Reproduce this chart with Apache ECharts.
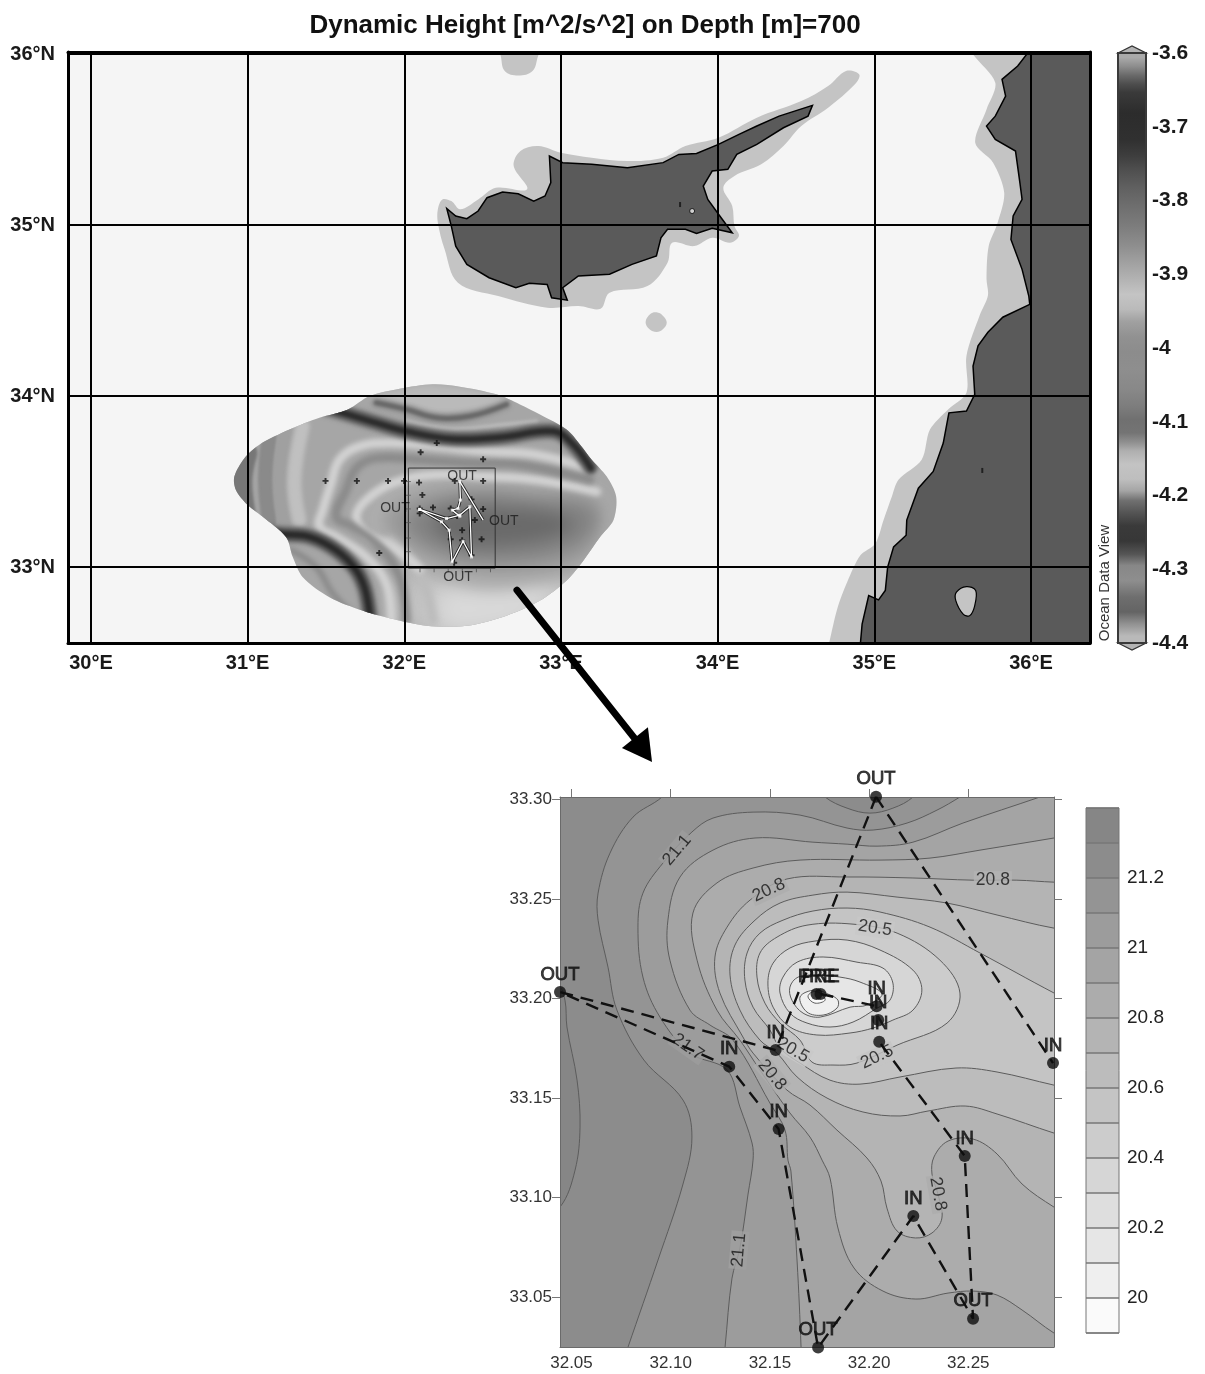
<!DOCTYPE html>
<html><head><meta charset="utf-8">
<style>html,body{margin:0;padding:0;background:#fff}#c{width:1205px;height:1374px}</style>
<script src="https://cdn.jsdelivr.net/npm/echarts@6/dist/echarts.min.js"></script></head>
<body><div id="c"></div>
<script>
const FONT='"Liberation Sans",Arial,sans-serif';
// ---- upper map axes
const lonTicks=[30,31,32,33,34,35,36];
const latTicks=[33,34,35,36];
// ---- coast and shelf (lon,lat)
const cyprusLand=[[32.271,35.097],[32.328,35.053],[32.399,35.037],[32.471,35.082],[32.528,35.16],[32.627,35.193],[32.727,35.183],[32.826,35.14],[32.898,35.17],[32.935,35.248],[32.926,35.404],[33.011,35.365],[33.196,35.355],[33.424,35.335],[33.652,35.365],[33.752,35.413],[33.865,35.419],[34.005,35.472],[34.136,35.53],[34.25,35.579],[34.392,35.637],[34.605,35.7],[34.577,35.637],[34.42,35.569],[34.25,35.472],[34.122,35.413],[34.065,35.326],[33.965,35.316],[33.908,35.228],[33.937,35.15],[34.022,35.043],[34.093,34.955],[33.965,34.981],[33.865,34.951],[33.794,34.975],[33.68,34.975],[33.638,34.926],[33.609,34.819],[33.453,34.77],[33.31,34.712],[33.111,34.702],[33.011,34.634],[33.04,34.561],[32.94,34.575],[32.912,34.653],[32.798,34.659],[32.712,34.634],[32.541,34.692],[32.399,34.77],[32.328,34.877],[32.3,34.994]];
const cyprusShelf=[[32.214,35.092],[32.243,35.15],[32.3,35.14],[32.357,35.092],[32.471,35.15],[32.584,35.218],[32.784,35.209],[32.698,35.345],[32.741,35.433],[32.855,35.462],[33.0,35.423],[33.196,35.394],[33.424,35.374],[33.652,35.394],[33.794,35.462],[34.005,35.511],[34.25,35.628],[34.534,35.725],[34.705,35.813],[34.819,35.901],[34.904,35.881],[34.876,35.823],[34.705,35.686],[34.534,35.579],[34.42,35.462],[34.278,35.355],[34.107,35.287],[34.036,35.218],[34.093,35.111],[34.107,34.994],[34.136,34.936],[34.079,34.897],[33.965,34.926],[33.851,34.877],[33.709,34.897],[33.68,34.78],[33.552,34.643],[33.31,34.604],[33.253,34.511],[33.111,34.526],[32.912,34.517],[32.599,34.585],[32.342,34.663],[32.257,34.858],[32.214,35.014]];
const northShelf=[[32.59,36.05],[32.613,35.998],[32.641,35.901],[32.727,35.875],[32.818,35.901],[32.855,35.992],[32.88,36.05]];
const smallShelf=[[33.54,34.433],[33.57,34.48],[33.61,34.49],[33.65,34.47],[33.675,34.43],[33.65,34.39],[33.61,34.375],[33.565,34.39]];
const eastShelf=[[35.6,36.05],[35.63,35.998],[35.772,35.832],[35.716,35.676],[35.644,35.481],[35.758,35.365],[35.829,35.189],[35.787,35.014],[35.73,34.877],[35.716,34.686],[35.725,34.588],[35.672,34.471],[35.588,34.235],[35.588,34.02],[35.471,33.922],[35.355,33.804],[35.302,33.627],[35.154,33.51],[35.112,33.412],[35.059,33.275],[35.006,33.137],[34.911,33.069],[34.827,32.912],[34.763,32.755],[34.71,32.551],[34.69,32.49],[36.5,32.49],[36.5,36.05]];
const eastLand=[[35.95,36.05],[35.972,35.998],[35.915,35.93],[35.815,35.852],[35.838,35.754],[35.772,35.637],[35.716,35.579],[35.772,35.501],[35.901,35.433],[35.929,35.248],[35.943,35.15],[35.886,35.053],[35.872,34.916],[35.943,34.741],[35.986,34.585],[35.992,34.536],[35.82,34.461],[35.725,34.373],[35.662,34.294],[35.63,34.176],[35.641,34.01],[35.588,33.912],[35.476,33.902],[35.44,33.725],[35.376,33.559],[35.281,33.461],[35.207,33.275],[35.203,33.186],[35.123,33.118],[35.085,33.0],[35.07,32.863],[35.027,32.808],[34.964,32.833],[34.922,32.667],[34.911,32.551],[34.9,32.49],[36.5,32.49],[36.5,36.05]];
const inlandPatch=[[35.524,32.853],[35.588,32.886],[35.647,32.863],[35.641,32.775],[35.609,32.716],[35.567,32.725],[35.52,32.804]];
const darkMarks=[[33.76,35.12],[35.689,33.565]];
const whiteMarks=[[33.837,35.082]];
// ---- gridded field footprint and its bands (lon,lat)
const fieldOutline=[[30.915,33.529],[30.979,33.637],[31.075,33.716],[31.267,33.804],[31.458,33.873],[31.64,33.922],[31.778,34.0],[31.97,34.043],[32.183,34.069],[32.354,34.055],[32.588,34.01],[32.738,33.951],[32.866,33.892],[33.036,33.804],[33.122,33.716],[33.196,33.627],[33.292,33.529],[33.352,33.412],[33.335,33.275],[33.249,33.176],[33.143,33.039],[33.036,32.922],[32.866,32.804],[32.652,32.716],[32.397,32.657],[32.141,32.657],[31.928,32.696],[31.736,32.745],[31.522,32.824],[31.352,32.941],[31.288,33.059],[31.245,33.176],[31.096,33.294],[31.0,33.363],[30.925,33.451]];
const southPatchA=[[32.013,33.0],[32.311,32.981],[32.951,33.0],[33.164,33.059],[33.079,32.726],[32.524,32.608],[31.97,32.648]];
const southPatchB=[[32.226,32.883],[32.631,32.883],[32.951,32.922],[32.866,32.726],[32.482,32.608],[32.205,32.648]];
const northCap=[[31.778,34.0],[31.991,34.049],[32.183,34.069],[32.588,34.01],[32.673,33.951],[32.418,33.906],[32.205,33.892],[32.013,33.931]];
const coreA=[[31.757,33.275],[31.927,33.471],[32.311,33.51],[32.738,33.51],[33.228,33.451],[33.313,33.275],[33.164,33.0],[32.738,32.883],[32.311,32.902],[31.927,33.079]];
const coreB=[[31.863,33.275],[32.013,33.412],[32.354,33.471],[32.738,33.471],[33.228,33.412],[33.271,33.255],[33.143,33.04],[32.738,32.961],[32.354,32.981],[32.013,33.118]];
const coreC=[[32.013,33.265],[32.183,33.373],[32.482,33.422],[32.844,33.392],[33.185,33.353],[33.217,33.236],[33.036,33.098],[32.631,33.04],[32.311,33.079],[32.098,33.157]];
const coreD=[[32.183,33.255],[32.354,33.334],[32.631,33.343],[32.951,33.314],[33.079,33.255],[32.951,33.177],[32.631,33.128],[32.354,33.138]];
const bandW1=[[30.979,33.667],[30.947,33.51],[30.968,33.314]];
const bandW2=[[31.139,33.765],[31.117,33.51],[31.139,33.275]];
const bandW3=[[31.245,33.804],[31.203,33.51],[31.245,33.196]];
const bandW4=[[31.352,33.824],[31.298,33.51],[31.33,33.275]];
const bandInnerU=[[33.228,33.441],[32.844,33.51],[32.524,33.53],[32.183,33.539],[31.927,33.49],[31.757,33.392],[31.693,33.294],[31.757,33.196],[31.927,33.118],[32.098,32.99]];
const bandMidU=[[33.185,33.51],[32.738,33.598],[32.418,33.608],[32.098,33.628],[31.821,33.637],[31.693,33.579],[31.629,33.451],[31.565,33.294],[31.672,33.236],[31.842,33.118],[31.97,32.942],[32.013,32.687]];
const bandOuterU=[[33.207,33.569],[32.844,33.657],[32.524,33.677],[32.205,33.706],[31.927,33.726],[31.714,33.706],[31.586,33.628],[31.533,33.49],[31.48,33.334],[31.458,33.236],[31.565,33.177],[31.757,33.059],[31.885,32.902],[31.917,32.687]];
const bandNorthArc=[[31.821,33.961],[32.013,33.922],[32.205,33.873],[32.418,33.882],[32.652,33.951]];
const bandNorthLight=[[32.013,33.853],[32.311,33.808],[32.631,33.833],[32.844,33.853]];
const bandNorthDark=[[31.5,33.93],[31.608,33.902],[31.821,33.843],[32.013,33.794],[32.311,33.749],[32.631,33.761],[32.951,33.794],[33.079,33.716],[33.19,33.58]];
const bandSouthDark=[[31.15,33.2],[31.224,33.192],[31.394,33.177],[31.565,33.098],[31.693,32.981],[31.757,32.844],[31.789,32.6]];
const bandSouthOuter=[[31.277,33.098],[31.437,33.0],[31.544,32.844],[31.672,32.726]];
const bandSouthInner=[[31.906,33.157],[32.098,32.961],[32.183,32.687]];
// ---- stations on the map
const mapStations=[[31.497,33.504],[31.697,33.504],[31.896,33.504],[31.998,33.504],[32.094,33.494],[32.115,33.422],[32.207,33.725],[32.104,33.671],[32.503,33.631],[32.503,33.504],[32.322,33.504],[32.429,33.396],[32.503,33.339],[32.45,33.275],[32.183,33.349],[32.098,33.314],[32.098,33.343],[32.296,33.343],[32.337,33.298],[32.369,33.216],[32.493,33.163],[32.296,33.163],[32.369,33.157],[32.429,33.069],[32.318,33.025],[31.84,33.082]];
const insetFrame=[[32.026,33.579],[32.58,33.579],[32.58,32.994],[32.026,32.994],[32.026,33.579]];
const insetLoop=[[32.098,33.337],[32.237,33.265],[32.286,33.216],[32.305,33.029],[32.375,33.151],[32.429,33.059],[32.418,33.353],[32.354,33.304],[32.269,33.284],[32.098,33.337]];
const insetSpur=[[32.354,33.5],[32.358,33.392],[32.343,33.343],[32.305,33.333],[32.354,33.298]];
const insetLeg=[[32.354,33.5],[32.503,33.275]];
const insetOut=[[32.369,33.533],[31.94,33.343],[32.635,33.271],[32.343,32.941]];
const insetTickLat=[33.5,33.42,33.34,33.26,33.17,33.09,33.0];
const insetTickLon=[32.1,32.19,32.28,32.37,32.46,32.55];
const arrowShaft=[[32.719,32.865],[33.504,31.959]];
const arrowHead=[[33.581,31.86],[33.389,31.942],[33.555,32.064]];
// ---- upper colour scale
const scaleTopTicks=[-3.6,-3.7,-3.8,-3.9,-4,-4.1,-4.2,-4.3,-4.4];
const scaleTopEdges=[-3.6,-3.612,-3.625,-3.636,-3.648,-3.659,-3.704,-3.73,-3.749,-3.771,-3.794,-3.82,-3.848,-3.875,-3.897,-3.915,-3.94,-3.955,-3.974,-3.996,-4.016,-4.043,-4.07,-4.088,-4.106,-4.124,-4.133,-4.146,-4.169,-4.187,-4.2,-4.214,-4.232,-4.25,-4.273,-4.286,-4.304,-4.327,-4.349,-4.367,-4.381,-4.4];
const scaleTopGrays=[170,140,105,78,58,44,48,62,80,96,110,124,142,162,178,196,186,160,145,140,142,136,125,112,116,145,175,195,190,165,112,85,58,55,85,135,142,110,100,145,185];
// ---- lower plot: regions below each contour level (lon,lat)
const lowLonTicks=[32.05,32.10,32.15,32.20,32.25];
const lowLatTicks=[33.05,33.10,33.15,33.20,33.25,33.30];
const below213=[[32.31,33.315],[32.31,33.01],[32.03,33.01],[32.03,33.086],[32.0442,33.0952],[32.0518,33.1138],[32.0543,33.1354],[32.0528,33.159],[32.0477,33.1857],[32.0467,33.1992],[32.0432,33.2068],[32.03,33.21],[32.03,33.315]];
const below212=[[32.0986,33.3073],[32.0956,33.3013],[32.081,33.2912],[32.0694,33.2731],[32.0634,33.253],[32.0634,33.2394],[32.0684,33.2158],[32.0729,33.1942],[32.0865,33.1691],[32.1062,33.149],[32.1107,33.1304],[32.1062,33.1068],[32.0936,33.0686],[32.0785,33.0249],[32.0755,33.0159],[32.31,33.01],[32.31,33.315],[32.2246,33.3073],[32.2221,33.3013],[32.212,33.2957],[32.2004,33.2932],[32.1889,33.2957],[32.1778,33.3013],[32.1742,33.3073]];
const below211=[[32.1264,33.0159],[32.1274,33.0249],[32.1309,33.0595],[32.1349,33.0746],[32.139,33.1018],[32.1415,33.1188],[32.141,33.1274],[32.1349,33.1455],[32.1284,33.1641],[32.1097,33.1726],[32.0946,33.1907],[32.086,33.2108],[32.0835,33.2359],[32.086,33.253],[32.0961,33.2681],[32.1107,33.2837],[32.1213,33.2907],[32.1415,33.2937],[32.1652,33.2922],[32.1889,33.2857],[32.202,33.2847],[32.2191,33.2882],[32.2342,33.2947],[32.2458,33.3013],[32.2549,33.3073],[32.31,33.315],[32.31,33.01]];
const below210=[[32.1657,33.0159],[32.1657,33.0249],[32.1637,33.0681],[32.1606,33.1133],[32.1591,33.1188],[32.1576,33.1339],[32.15,33.1475],[32.1314,33.1791],[32.1198,33.1867],[32.1097,33.1942],[32.0996,33.2193],[32.0986,33.2394],[32.1047,33.2611],[32.1213,33.2746],[32.1425,33.2807],[32.1717,33.2786],[32.1889,33.2776],[32.204,33.2766],[32.2221,33.2786],[32.2473,33.2882],[32.2861,33.3013],[32.3012,33.3068],[32.31,33.315],[32.31,33.01]];
const below209=[[32.3012,33.0284],[32.2932,33.0319],[32.2771,33.0435],[32.2645,33.051],[32.2524,33.053],[32.2398,33.052],[32.2236,33.049],[32.207,33.053],[32.1924,33.0646],[32.1843,33.0847],[32.1803,33.1098],[32.1763,33.1188],[32.1702,33.1304],[32.1601,33.1425],[32.145,33.1641],[32.1349,33.1791],[32.1233,33.1942],[32.1133,33.2193],[32.1112,33.243],[32.1233,33.2581],[32.1415,33.2656],[32.1652,33.2696],[32.2055,33.2696],[32.2307,33.2706],[32.2559,33.2746],[32.2932,33.2807],[32.3012,33.2822]];
const below208=[[32.3012,33.2585],[32.2932,33.2585],[32.2745,33.2595],[32.2524,33.2595],[32.2221,33.2606],[32.1889,33.2611],[32.1586,33.2601],[32.14,33.2495],[32.1284,33.2359],[32.1223,33.2209],[32.1248,33.2028],[32.1364,33.1807],[32.1415,33.1726],[32.1586,33.154],[32.1702,33.1465],[32.1838,33.1339],[32.1989,33.1199],[32.206,33.1083],[32.209,33.0947],[32.2141,33.0832],[32.2234,33.0797],[32.2317,33.0822],[32.2367,33.0897],[32.2347,33.1018],[32.2317,33.1118],[32.2327,33.1204],[32.2398,33.1284],[32.2524,33.1294],[32.2645,33.1219],[32.2771,33.1068],[32.2932,33.0952],[32.3012,33.0912]];
const below207=[[32.3012,33.2354],[32.2932,33.2354],[32.2645,33.242],[32.2393,33.248],[32.2141,33.251],[32.1889,33.2535],[32.1717,33.252],[32.1551,33.248],[32.1425,33.2394],[32.1324,33.2269],[32.1299,33.2118],[32.1349,33.1942],[32.145,33.1791],[32.1536,33.1726],[32.1637,33.1606],[32.1788,33.15],[32.1969,33.143],[32.2156,33.141],[32.2297,33.1435],[32.2484,33.146],[32.2645,33.142],[32.2932,33.1324],[32.3012,33.1304]];
const below206=[[32.3012,33.1992],[32.2932,33.2028],[32.2559,33.2229],[32.2307,33.2359],[32.2055,33.2435],[32.1889,33.2455],[32.1717,33.244],[32.1566,33.2394],[32.145,33.2329],[32.1385,33.2229],[32.1374,33.2093],[32.1415,33.1957],[32.15,33.1842],[32.1551,33.1751],[32.1652,33.1676],[32.1803,33.159],[32.1954,33.157],[32.2156,33.1606],[32.2438,33.1651],[32.2645,33.1631],[32.2932,33.1565],[32.3012,33.155]];
const below205=[[32.1919,33.2374],[32.2141,33.2329],[32.2357,33.2193],[32.2458,33.2028],[32.2393,33.1877],[32.2141,33.1766],[32.1939,33.1676],[32.1818,33.1666],[32.1712,33.1681],[32.1652,33.1791],[32.1551,33.1877],[32.1475,33.1977],[32.1435,33.2108],[32.145,33.2229],[32.1536,33.2309],[32.1687,33.2369]];
const below204=[[32.1889,33.2294],[32.2055,33.2244],[32.2221,33.2143],[32.2266,33.2043],[32.2221,33.1942],[32.212,33.1892],[32.202,33.1852],[32.1904,33.1827],[32.1737,33.1817],[32.1601,33.1857],[32.1516,33.1957],[32.149,33.2078],[32.1516,33.2178],[32.1601,33.2254],[32.1727,33.2289]];
const below203=[[32.1939,33.2183],[32.207,33.2153],[32.212,33.2078],[32.2105,33.1992],[32.204,33.1952],[32.1919,33.1882],[32.1803,33.1857],[32.1687,33.1877],[32.1601,33.1927],[32.1551,33.2028],[32.1566,33.2108],[32.1637,33.2183],[32.1768,33.2209]];
const below202=[[32.1737,33.2118],[32.1853,33.2108],[32.1954,33.2083],[32.2065,33.2023],[32.1989,33.1967],[32.1904,33.1957],[32.1753,33.1907],[32.1667,33.1927],[32.1611,33.1992],[32.1601,33.2058],[32.1642,33.2108]];
const below201=[[32.1652,33.2008],[32.1687,33.1932],[32.1768,33.1917],[32.1838,33.1952],[32.1843,33.1992],[32.1803,33.2018],[32.1727,33.2043]];
const below200=[[32.1692,33.2008],[32.1727,33.1977],[32.1778,33.1992],[32.1753,33.2028],[32.1712,33.2033]];
const contourLabelText=['21.1','20.8','20.5','20.8','21.7','20.5','20.8','20.5','20.8','21.1'];
const contourLabelLon=[32.1032,32.1495,32.203,32.2624,32.1087,32.1616,32.1511,32.204,32.2347,32.1344];
const contourLabelLat=[33.2746,33.2545,33.2354,33.2595,33.1756,33.1741,33.1616,33.1706,33.1018,33.0736];
// ---- lower plot: cruise stations
const stationName=['OUT','IN','FRE','PRE','IN','IN','IN','IN','IN','OUT','IN','IN','IN','OUT','OUT'];
const stationLon=[32.2035,32.2927,32.1735,32.1755,32.2038,32.2046,32.2051,32.1529,32.1295,32.0442,32.1544,32.2482,32.2223,32.2524,32.1743];
const stationLat=[33.3014,33.1676,33.2023,33.2023,33.1962,33.1892,33.1783,33.1741,33.1658,33.2033,33.1344,33.1209,33.0907,33.0391,33.0246];
const trackA=[0,7];
const trackB=[3,4];
const trackC=[0,1];
const trackD=[7,9,8,10,14,12,13,11,6];
// ---- lower colour scale
const scaleLowTicks=[20,20.2,20.4,20.6,20.8,21,21.2];
const scaleLowEdges=[19.9,20,20.1,20.2,20.3,20.4,20.5,20.6,20.7,20.8,20.9,21,21.1,21.2,21.3,21.4];
const scaleLowColors=['#fafafa','#efefef','#e6e6e6','#dedede','#d6d6d6','#cccccc','#c4c4c4','#bcbcbc','#b4b4b4','#acacac','#a4a4a4','#9c9c9c','#949494','#8c8c8c','#868686'];

// ---- tables built from the arrays above
const SEA='#f5f5f5',SHELF='#c4c4c4',LAND='#5a5a5a';
function poly(path,fill,o){return Object.assign({kind:'polygon',path,fill},o||{});}
function stroke(path,lw,color,o){return Object.assign({kind:'polyline',path,lw,color,smooth:.4},o||{});}
const mapLayers=[
 poly(northShelf,SHELF,{smooth:.4}),poly(smallShelf,SHELF,{smooth:.4}),
 poly(cyprusShelf,SHELF,{smooth:.35}),poly(eastShelf,SHELF,{smooth:.3}),
 poly(cyprusLand,LAND,{line:'#000',lw:1.5}),poly(eastLand,LAND,{line:'#000',lw:1.5}),
 poly(inlandPatch,SHELF,{smooth:.35,line:'#000',lw:1.2})
];
const soft=(blur)=>({smooth:.4,clip:true,soft:blur});
const band=(blur)=>({clip:true,soft:blur});
const fieldLayers=[
 poly(fieldOutline,'#a6a6a6',{smooth:.3}),
 poly(southPatchA,'#c0c0c0',soft(26)),poly(southPatchB,'#dadada',soft(26)),
 poly(northCap,'#bababa',soft(6)),
 poly(coreA,'#b0b0b0',soft(14)),poly(coreB,'#9a9a9a',soft(16)),poly(coreC,'#828282',soft(16)),poly(coreD,'#6a6a6a',soft(16)),
 stroke(bandW1,26,'#777777',band(3)),stroke(bandW2,16,'#8a8a8a',band(3)),stroke(bandW3,14,'#a0a0a0',band(3)),stroke(bandW4,14,'#c0c0c0',band(4)),
 stroke(bandSouthOuter,6,'#8a8a8a',band(5)),stroke(bandSouthInner,10,'#bcbcbc',band(6)),
 stroke(bandInnerU,9,'#d2d2d2',band(5)),stroke(bandMidU,9,'#8c8c8c',band(5)),stroke(bandOuterU,9,'#d2d2d2',band(5)),
 stroke(bandNorthArc,10,'#909090',band(4)),stroke(bandNorthArc,5,'#686868',band(3)),
 stroke(bandNorthLight,4,'#bbbbbb',band(3)),
 stroke(bandNorthDark,15,'#707070',band(5)),stroke(bandNorthDark,10,'#4a4a4a',band(4)),stroke(bandNorthDark,5,'#2c2c2c',band(3)),
 stroke(bandSouthDark,15,'#6a6a6a',band(5)),stroke(bandSouthDark,10,'#454545',band(4)),stroke(bandSouthDark,5,'#2a2a2a',band(3))
];
const lowLayers=[below213,below212,below211,below210,below209,below208,below207,below206,below205,below204,below203,below202,below201,below200]
 .map((p,i)=>poly(p,scaleLowColors[13-i],{smooth:.36,line:'#5c5c5c',lw:1}));
const labelBack=['#9c9c9c','#acacac','#c8c8c8','#b4b4b4','#9c9c9c','#c8c8c8','#acacac','#c4c4c4','#acacac','#a0a0a0'];
const labelRot=[50,25,-8,0,-35,-30,-50,25,-80,85];
const FAR=3000;

function shapes(items,xi,yi,z,frameClip,fieldClip){
 return {type:'custom',xAxisIndex:xi,yAxisIndex:yi,z,silent:true,
  data:items.map((it,i)=>[it.path[0][0],it.path[0][1],i]),
  encode:{x:0,y:1},
  renderItem(params,api){
   const it=items[params.dataIndex];
   let pts=it.path.map(p=>api.coord(p));
   const cs=params.coordSys;
   if(it.soft)pts=pts.map(p=>[p[0]-FAR,p[1]]);
   const el={type:it.kind,shape:{points:pts,smooth:it.smooth||0}};
   if(it.kind==='polygon')el.style={fill:it.fill,stroke:it.line||null,lineWidth:it.lw||0};
   else el.style={fill:null,stroke:it.color,lineWidth:it.lw,lineCap:'round',lineJoin:'round'};
   if(it.soft){el.style.shadowBlur=it.soft;el.style.shadowColor=it.fill||it.color;el.style.shadowOffsetX=FAR;}
   if(it.clip&&fieldClip)el.clipPath={type:'polygon',shape:{points:fieldClip.map(p=>api.coord(p)),smooth:.3}};
   else if(frameClip)el.clipPath={type:'rect',shape:{x:cs.x,y:cs.y,width:cs.width,height:cs.height}};
   return el;
  }};
}
function cells(edges,colorOf,xi,yi){
 const n=edges.length-1,d=[];
 for(let i=0;i<n;i++)d.push([0,edges[i],edges[i+1],colorOf(i)]);
 return {type:'custom',xAxisIndex:xi,yAxisIndex:yi,z:2,silent:true,data:d,encode:{x:0,y:1},
  renderItem(p,api){
   const a=api.coord([0,api.value(1)]),b=api.coord([1,api.value(2)]);
   return {type:'rect',shape:{x:a[0],y:Math.min(a[1],b[1]),width:b[0]-a[0],height:Math.abs(b[1]-a[1])},
     style:{fill:d[p.dataIndex][3],stroke:null}};
  }};
}
const pts=(idx)=>idx.map(i=>[stationLon[i],stationLat[i]]);
const dashed=(idx)=>({type:'line',xAxisIndex:2,yAxisIndex:2,z:6,silent:true,symbol:'none',clip:false,data:pts(idx),
  lineStyle:{color:'#111',width:2.4,type:[13,8]}});
const thin=(data,color,w,z)=>({type:'line',xAxisIndex:0,yAxisIndex:0,z,silent:true,symbol:'none',data,lineStyle:{color,width:w}});

const mapAxisLine={show:true,onZero:false,lineStyle:{color:'#000',width:3}};
const lowAxisLine={show:true,onZero:false,lineStyle:{color:'#6a6a6a',width:1}};
const grids=[{left:68,top:52,width:1022,height:591,show:true,backgroundColor:SEA,borderWidth:0},
 {left:560,top:797,width:494,height:550,show:true,backgroundColor:'#868686',borderWidth:0},
 {left:1118,top:53,width:28,height:590},
 {left:1086,top:808,width:33,height:525}];
const labelMap={show:true,color:'#1a1a1a',fontFamily:FONT,fontWeight:'bold',fontSize:20};
const labelLow={show:true,color:'#333',fontFamily:FONT,fontSize:17};
const hidden={splitLine:{show:false},axisTick:{show:false},axisLabel:{show:false}};
const xAxis=[
 {type:'value',gridIndex:0,min:29.8532,max:36.3766,position:'bottom',z:10,axisLine:mapAxisLine,
  axisTick:{show:false,customValues:lonTicks},
  axisLabel:Object.assign({},labelMap,{customValues:lonTicks,margin:10,formatter:v=>v+'°E'}),
  splitLine:{show:true,lineStyle:{color:'#000',width:2}}},
 Object.assign({type:'value',gridIndex:0,min:29.8532,max:36.3766,position:'top',z:10,axisLine:mapAxisLine},hidden),
 {type:'value',gridIndex:1,min:32.0442,max:32.2932,position:'bottom',z:3,axisLine:lowAxisLine,
  axisTick:{show:false,customValues:lowLonTicks},
  axisLabel:Object.assign({},labelLow,{customValues:lowLonTicks,margin:8,formatter:v=>v.toFixed(2)}),splitLine:{show:false}},
 {type:'value',gridIndex:1,min:32.0442,max:32.2932,position:'top',z:3,axisLine:lowAxisLine,
  axisTick:{show:true,inside:false,length:8,customValues:lowLonTicks,lineStyle:{color:'#777'}},axisLabel:{show:false},splitLine:{show:false}},
 Object.assign({type:'value',gridIndex:2,min:0,max:1,axisLine:{show:false}},hidden),
 Object.assign({type:'value',gridIndex:3,min:0,max:1,axisLine:{show:false}},hidden)
];
const yAxis=[
 {type:'value',gridIndex:0,min:32.556,max:36.012,position:'left',z:10,axisLine:mapAxisLine,
  axisTick:{show:false,customValues:latTicks},
  axisLabel:Object.assign({},labelMap,{customValues:latTicks,margin:13,formatter:v=>v+'°N'}),
  splitLine:{show:true,lineStyle:{color:'#000',width:2}}},
 Object.assign({type:'value',gridIndex:0,min:32.556,max:36.012,position:'right',z:10,axisLine:mapAxisLine},hidden),
 {type:'value',gridIndex:1,min:33.0249,max:33.3013,position:'left',z:3,axisLine:lowAxisLine,
  axisTick:{show:true,length:8,customValues:lowLatTicks,lineStyle:{color:'#777'}},
  axisLabel:Object.assign({},labelLow,{customValues:lowLatTicks,margin:8,formatter:v=>v.toFixed(2)}),splitLine:{show:false}},
 {type:'value',gridIndex:1,min:33.0249,max:33.3013,position:'right',z:3,axisLine:lowAxisLine,
  axisTick:{show:true,length:8,customValues:lowLatTicks,lineStyle:{color:'#777'}},axisLabel:{show:false},splitLine:{show:false}},
 {type:'value',gridIndex:2,min:-4.4,max:-3.6,position:'right',z:5,axisLine:{show:false},axisTick:{show:false,customValues:scaleTopTicks},
  axisLabel:{show:true,customValues:scaleTopTicks,margin:6,color:'#1a1a1a',fontFamily:FONT,fontWeight:'bold',fontSize:21},splitLine:{show:false}},
 {type:'value',gridIndex:3,min:19.9,max:21.4,position:'right',z:5,axisLine:{show:false},axisTick:{show:false,customValues:scaleLowTicks},
  axisLabel:{show:true,customValues:scaleLowTicks,margin:8,color:'#222',fontFamily:FONT,fontSize:19},splitLine:{show:false}}
];
const series=[
 shapes(mapLayers,0,0,2,true),
 shapes(fieldLayers,0,0,3,true,fieldOutline),
 {type:'scatter',xAxisIndex:0,yAxisIndex:0,z:4,silent:true,symbol:'rect',symbolSize:[2,5],data:darkMarks,itemStyle:{color:'#111'}},
 {type:'scatter',xAxisIndex:0,yAxisIndex:0,z:4,silent:true,symbol:'circle',symbolSize:5,data:whiteMarks,itemStyle:{color:'#eee',borderColor:'#000',borderWidth:1}},
 thin(insetFrame,'#333',1,4),
 {type:'scatter',xAxisIndex:0,yAxisIndex:0,z:4,silent:true,symbol:'path://M0 3.4H10V6.6H0ZM3.4 0H6.6V10H3.4Z',symbolSize:6,data:mapStations,itemStyle:{color:'#111'}},
 {type:'scatter',xAxisIndex:0,yAxisIndex:0,z:4,silent:true,symbol:'rect',symbolSize:[5,1],data:insetTickLat.map(v=>[32.026,v]),itemStyle:{color:'#555'}},
 {type:'scatter',xAxisIndex:0,yAxisIndex:0,z:4,silent:true,symbol:'rect',symbolSize:[1,5],data:insetTickLon.map(v=>[v,32.985]),itemStyle:{color:'#555'}},
 thin(insetLoop,'#222',3,4),thin(insetSpur,'#222',3,4),thin(insetLeg,'#222',3,4),
 thin(insetLoop,'#fff',1.3,5),thin(insetSpur,'#fff',1.3,5),thin(insetLeg,'#fff',1.3,5),
 {type:'scatter',xAxisIndex:0,yAxisIndex:0,z:5,silent:true,symbol:'rect',symbolSize:3,data:insetLoop.concat(insetSpur),itemStyle:{color:'#fff'}},
 {type:'scatter',xAxisIndex:0,yAxisIndex:0,z:5,silent:true,symbolSize:0,data:insetOut,
  label:{show:true,formatter:'OUT',position:'inside',color:'#1a1a1a',fontFamily:FONT,fontSize:14}},
 shapes([stroke(arrowShaft,7,'#000',{smooth:0}),poly(arrowHead,'#000')],0,0,20),
 shapes(lowLayers,2,2,2,true),
 {type:'scatter',xAxisIndex:2,yAxisIndex:2,z:5,silent:true,symbolSize:0,
  data:contourLabelText.map((t,i)=>({name:t,value:[contourLabelLon[i],contourLabelLat[i]],
   label:{rotate:labelRot[i],backgroundColor:labelBack[i]}})),
  label:{show:true,position:'inside',formatter:'{b}',color:'#141414',fontFamily:FONT,fontSize:17.5,padding:[0,2]}},
 dashed(trackA),dashed(trackB),dashed(trackC),dashed(trackD),
 {type:'scatter',xAxisIndex:2,yAxisIndex:2,z:7,silent:true,clip:false,symbol:'circle',symbolSize:12,
  data:stationName.map((n,i)=>({name:n,value:[stationLon[i],stationLat[i]]})),
  itemStyle:{color:'#0e0e0e'},
  label:{show:true,position:'top',distance:2,formatter:'{b}',color:'#111',fontFamily:FONT,fontSize:18.5,textBorderColor:'#111',textBorderWidth:.9}},
 {type:'custom',xAxisIndex:4,yAxisIndex:4,z:2,silent:true,data:[[0,-3.6]],encode:{x:0,y:1},
  renderItem(p,api){
   const a=api.coord([0,-3.6]),b=api.coord([1,-4.4]);
   const stops=scaleTopGrays.map((g,i)=>({offset:(-3.6-(scaleTopEdges[i]+scaleTopEdges[i+1])/2)/0.8,color:'rgb('+g+','+g+','+g+')'}));
   return {type:'rect',shape:{x:a[0],y:a[1],width:b[0]-a[0],height:b[1]-a[1]},
    style:{fill:new echarts.graphic.LinearGradient(0,0,0,1,stops)}};
  }},
 cells(scaleLowEdges,i=>scaleLowColors[i],5,5),
 {type:'custom',xAxisIndex:4,yAxisIndex:4,z:3,silent:true,data:[[0,-3.6]],encode:{x:0,y:1},
  renderItem(p,api){const P=(x,y)=>api.coord([x,y]);
   const top=[P(0,-3.6),P(.5,-3.5905),P(1,-3.6)];
   const bot=[P(0,-4.4),P(.5,-4.4095),P(1,-4.4)];
   const st=()=>({fill:'#b4b4b4',stroke:'#333',lineWidth:1.2});
   const a=P(0,-3.6),b=P(1,-4.4);
   return {type:'group',children:[{type:'polygon',shape:{points:top},style:st()},{type:'polygon',shape:{points:bot},style:st()},
     {type:'rect',z2:5,shape:{x:a[0],y:a[1],width:b[0]-a[0],height:b[1]-a[1]},style:{fill:null,stroke:'#3a3a3a',lineWidth:2}}]};
  }},
 {type:'custom',xAxisIndex:5,yAxisIndex:5,z:3,silent:true,data:scaleLowEdges.map(v=>[0,v]),encode:{x:0,y:1},
  renderItem(p,api){const a=api.coord([0,api.value(1)]),b=api.coord([1,api.value(1)]);
   return {type:'line',shape:{x1:a[0],y1:a[1],x2:b[0],y2:b[1]},style:{stroke:'#777',lineWidth:1.5}};}},
 {type:'custom',xAxisIndex:5,yAxisIndex:5,z:3,silent:true,data:[[0,19.9]],encode:{x:0,y:1},
  renderItem(p,api){const a=api.coord([0,21.4]),b=api.coord([1,19.9]);
   return {type:'rect',shape:{x:a[0],y:a[1],width:b[0]-a[0],height:b[1]-a[1]},style:{fill:null,stroke:'#777',lineWidth:1}};}}
];
const chart=echarts.init(document.getElementById('c'),null,{renderer:'canvas'});
chart.setOption({animation:false,backgroundColor:'#fff',
 title:{text:'Dynamic Height [m^2/s^2] on Depth [m]=700',left:580,top:8,textAlign:'center',
  textStyle:{fontFamily:FONT,fontWeight:'bold',fontSize:26,color:'#111'}},
 graphic:[{type:'text',x:1112,y:583,rotation:Math.PI/2,z:10,silent:true,
  style:{text:'Ocean Data View',fontFamily:FONT,fontSize:15,fill:'#333',textAlign:'center',textVerticalAlign:'bottom'}}],
 grid:grids,xAxis,yAxis,series});
</script></body></html>
